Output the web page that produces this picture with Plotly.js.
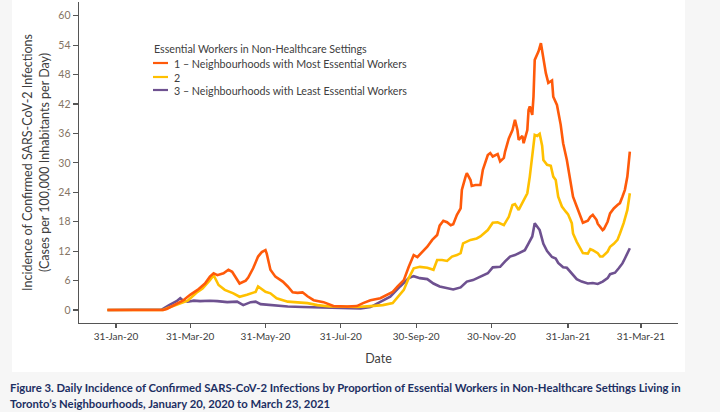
<!DOCTYPE html>
<html>
<head>
<meta charset="utf-8">
<script src="https://cdn.plot.ly/plotly-3.0.1.min.js"></script>
<style>html,body{margin:0;padding:0;background:#f6f6f6;}#chart{width:720px;height:412px;}</style>
</head>
<body>
<div id="chart"></div>
<script>
// ---- Data ----
const seriesNames = [
  "1 \u2013 Neighbourhoods with Most Essential Workers",
  "2",
  "3 \u2013 Neighbourhoods with Least Essential Workers"
];
const legendTitle = "Essential Workers in Non-Healthcare Settings";

const dates1 = ["2020-01-24","2020-02-20","2020-03-09","2020-03-12","2020-03-20","2020-03-25","2020-03-31","2020-04-06","2020-04-12","2020-04-16","2020-04-19","2020-04-22","2020-04-27","2020-05-01","2020-05-04","2020-05-08","2020-05-10","2020-05-15","2020-05-17","2020-05-21","2020-05-25","2020-05-28","2020-05-31","2020-06-01","2020-06-04","2020-06-08","2020-06-14","2020-06-18","2020-06-22","2020-06-26","2020-06-30","2020-07-04","2020-07-09","2020-07-17","2020-07-25","2020-08-05","2020-08-13","2020-08-18","2020-08-24","2020-09-01","2020-09-07","2020-09-11","2020-09-15","2020-09-20","2020-09-24","2020-09-28","2020-10-01","2020-10-05","2020-10-09","2020-10-13","2020-10-17","2020-10-19","2020-10-22","2020-10-25","2020-10-28","2020-10-30","2020-11-02","2020-11-05","2020-11-06","2020-11-09","2020-11-10","2020-11-13","2020-11-14","2020-11-17","2020-11-21","2020-11-23","2020-11-27","2020-11-29","2020-12-01","2020-12-05","2020-12-07","2020-12-10","2020-12-11","2020-12-14","2020-12-17","2020-12-19","2020-12-21","2020-12-22","2020-12-25","2020-12-26","2020-12-29","2020-12-30","2020-12-31","2021-01-02","2021-01-03","2021-01-04","2021-01-07","2021-01-09","2021-01-11","2021-01-13","2021-01-15","2021-01-18","2021-01-19","2021-01-22","2021-01-25","2021-01-27","2021-01-30","2021-02-02","2021-02-04","2021-02-07","2021-02-10","2021-02-12","2021-02-16","2021-02-18","2021-02-20","2021-02-23","2021-02-24","2021-02-28","2021-03-01","2021-03-04","2021-03-06","2021-03-09","2021-03-12","2021-03-14","2021-03-16","2021-03-18","2021-03-20","2021-03-22"];
const values1 = [0,0,0,0.2,1.2,1.9,3.1,4.1,5.4,6.8,7.5,7.1,7.5,8.2,7.8,6.1,5.4,6.0,6.6,8.5,10.9,11.8,12.2,11.5,8.2,6.8,5.8,4.8,3.6,3.5,3.6,2.8,2.0,1.6,0.8,0.7,0.8,1.4,2.0,2.4,3.1,3.7,4.8,6.1,8.8,11.2,10.8,11.9,12.9,14.3,15.3,17.2,18.2,17.9,17.3,17.5,19.4,20.7,24.5,27.2,27.9,26.5,25.3,25.5,25.5,28.6,31.6,32.0,31.3,31.8,30.3,31.0,32.3,35.0,36.7,38.8,36.7,34.7,35.5,34.0,36.7,40.8,41.5,39.8,43.5,51.0,52.7,54.4,51.5,48.3,46.3,46.8,43.5,41.8,37.8,34.0,30.6,26.5,23.1,21.1,19.0,17.8,18.2,19.0,19.4,18.4,17.6,16.3,16.5,18.0,19.7,20.7,21.4,21.8,23.1,24.5,27.2,32.3];

const dates2 = ["2020-01-24","2020-02-20","2020-03-09","2020-03-14","2020-03-20","2020-03-29","2020-04-06","2020-04-10","2020-04-16","2020-04-19","2020-04-23","2020-04-28","2020-05-05","2020-05-10","2020-05-16","2020-05-23","2020-05-25","2020-05-28","2020-05-31","2020-06-04","2020-06-09","2020-06-18","2020-06-26","2020-07-04","2020-07-12","2020-07-22","2020-07-30","2020-08-13","2020-08-24","2020-09-03","2020-09-11","2020-09-15","2020-09-20","2020-09-24","2020-09-28","2020-10-03","2020-10-09","2020-10-14","2020-10-17","2020-10-21","2020-10-25","2020-10-29","2020-11-02","2020-11-05","2020-11-07","2020-11-13","2020-11-18","2020-11-21","2020-11-27","2020-12-01","2020-12-05","2020-12-10","2020-12-14","2020-12-17","2020-12-19","2020-12-22","2020-12-26","2020-12-29","2020-12-31","2021-01-03","2021-01-04","2021-01-06","2021-01-08","2021-01-10","2021-01-11","2021-01-14","2021-01-17","2021-01-19","2021-01-21","2021-01-23","2021-01-26","2021-01-29","2021-01-31","2021-02-03","2021-02-04","2021-02-07","2021-02-10","2021-02-12","2021-02-16","2021-02-18","2021-02-20","2021-02-24","2021-02-26","2021-02-28","2021-03-04","2021-03-06","2021-03-09","2021-03-12","2021-03-14","2021-03-17","2021-03-20","2021-03-22"];
const values2 = [0,0,0,0.5,1.0,1.9,3.7,4.4,6.1,7.1,5.1,4.1,3.4,2.7,3.1,3.7,4.8,4.2,3.7,3.4,2.4,1.7,1.6,1.4,1.0,0.7,0.7,0.6,0.8,1.0,1.4,2.7,4.1,6.5,8.5,8.8,8.6,8.2,10.2,10.2,10.0,10.9,11.2,11.6,13.6,14.3,14.6,15.0,16.3,17.8,17.9,17.3,19.0,21.4,21.6,20.4,22.4,23.8,27.2,34.0,35.7,35.5,35.9,33.5,30.6,29.6,29.4,27.2,26.5,23.1,21.1,20.1,19.5,17.7,15.6,13.9,12.6,11.6,11.5,12.4,12.2,11.6,10.9,10.9,11.9,12.9,13.5,14.3,15.6,17.7,20.4,23.8];

const dates3 = ["2020-01-24","2020-02-20","2020-03-06","2020-03-08","2020-03-14","2020-03-20","2020-03-23","2020-03-25","2020-03-29","2020-04-03","2020-04-08","2020-04-16","2020-04-22","2020-04-30","2020-05-08","2020-05-13","2020-05-19","2020-05-23","2020-05-27","2020-06-04","2020-06-09","2020-06-18","2020-06-30","2020-07-12","2020-07-22","2020-08-05","2020-08-16","2020-08-24","2020-09-01","2020-09-09","2020-09-17","2020-09-24","2020-09-28","2020-10-03","2020-10-09","2020-10-14","2020-10-19","2020-10-25","2020-10-30","2020-11-05","2020-11-10","2020-11-15","2020-11-21","2020-11-27","2020-12-01","2020-12-07","2020-12-11","2020-12-15","2020-12-19","2020-12-23","2020-12-27","2020-12-30","2021-01-02","2021-01-04","2021-01-06","2021-01-08","2021-01-11","2021-01-14","2021-01-18","2021-01-21","2021-01-23","2021-01-27","2021-01-30","2021-02-03","2021-02-07","2021-02-11","2021-02-16","2021-02-20","2021-02-24","2021-02-28","2021-03-04","2021-03-06","2021-03-10","2021-03-13","2021-03-16","2021-03-18","2021-03-21","2021-03-22"];
const values3 = [0,0,0,0.1,1.0,1.8,2.4,2.0,1.7,1.9,1.8,1.9,1.8,1.6,1.7,1.0,1.6,1.7,1.2,1.0,0.8,0.7,0.6,0.5,0.4,0.3,0.3,0.6,1.7,2.7,4.8,6.5,6.9,6.5,6.3,5.4,4.8,4.5,4.2,4.6,5.8,6.1,6.8,7.5,8.7,8.8,9.9,10.9,11.2,11.7,12.2,13.6,15.0,17.7,17.0,16.3,13.5,12.0,10.8,10.5,9.6,8.7,8.6,7.5,6.3,5.8,5.4,5.5,5.3,5.8,6.5,7.3,7.6,8.5,9.5,10.5,11.9,12.6];

const tickDates = ["2020-01-31","2020-03-31","2020-05-31","2020-07-31","2020-09-30","2020-11-30","2021-01-31","2021-03-31"];
const tickLabels = ["31-Jan-20","31-Mar-20","31-May-20","31-Jul-20","30-Sep-20","30-Nov-20","31-Jan-21","31-Mar-21"];
const yTicks = [0,6,12,18,24,30,36,42,48,54,60];

const captionLines = [
  "Figure 3. Daily Incidence of Confirmed SARS-CoV-2 Infections by Proportion of Essential Workers in Non-Healthcare Settings Living in",
  "Toronto\u2019s Neighbourhoods, January 20, 2020 to March 23, 2021"
];

// ---- Styling ----
const colors = ["#ff5a0a", "#ffc000", "#6e5190"];
const W = 720, H = 412;
const M = {l: 79, r: 42, t: 2, b: 89};
const PW = W - M.l - M.r, PH = H - M.t - M.b;
const px = v => (v - M.l) / PW;          // pixel x -> paper x
const py = v => (H - M.b - v) / PH;      // pixel y -> paper y
const FONT = "Lato, 'Liberation Sans', sans-serif";

const xs = [dates1, dates2, dates3];
const ys = [values1, values2, values3];
const traces = xs.map((x, i) => ({
  type: "scatter", mode: "lines", x: x, y: ys[i], name: seriesNames[i],
  line: {color: colors[i], width: 2.6, shape: "linear"},
  showlegend: false, hoverinfo: "x+y+name"
}));
// draw purple first, then yellow, then orange on top
const ordered = [traces[2], traces[1], traces[0]];

const shapes = [
  {type: "rect", xref: "paper", yref: "paper", x0: px(12), x1: px(685), y0: py(372), y1: py(0),
   fillcolor: "#ffffff", line: {width: 0}, layer: "below"}
];
const annotations = [
  {xref: "paper", yref: "paper", x: px(152), y: py(48), xanchor: "left", yanchor: "middle",
   text: legendTitle, showarrow: false, font: {family: FONT, size: 10.7, color: "#404040"}}
];
const legendY = [63, 77, 90];
seriesNames.forEach((n, i) => {
  shapes.push({type: "line", xref: "paper", yref: "paper", x0: px(153), x1: px(168), y0: py(legendY[i]), y1: py(legendY[i]),
    line: {color: colors[i], width: 2.2}});
  annotations.push({xref: "paper", yref: "paper", x: px(172), y: py(legendY[i]), xanchor: "left", yanchor: "middle",
    text: n, showarrow: false, font: {family: FONT, size: 10.7, color: "#404040"}});
});
captionLines.forEach((t, i) => {
  annotations.push({xref: "paper", yref: "paper", x: px(8), y: py(387 + i * 16), xanchor: "left", yanchor: "middle",
    text: "<b>" + t + "</b>", showarrow: false, font: {family: FONT, size: 11.3, color: "#1c2f63"}});
});

const layout = {
  width: W, height: H,
  margin: {l: M.l, r: M.r, t: M.t, b: M.b, pad: 0},
  paper_bgcolor: "#f6f6f6", plot_bgcolor: "#ffffff",
  font: {family: FONT, color: "#404040"},
  showlegend: false,
  xaxis: {
    type: "date", range: ["2020-01-01", "2021-04-30"],
    tickmode: "array", tickvals: tickDates, ticktext: tickLabels,
    ticks: "outside", ticklen: 4, tickwidth: 1.2, tickcolor: "#555555",
    showline: true, linecolor: "#555555", linewidth: 1.4,
    showgrid: false, zeroline: false,
    tickfont: {family: FONT, size: 10, color: "#404040"},
    title: {text: "Date", font: {family: FONT, size: 12.5, color: "#404040"}, standoff: 13},
    automargin: false
  },
  yaxis: {
    range: [-2.65, 62.8],
    tickmode: "array", tickvals: yTicks,
    ticks: "outside", ticklen: 5, tickwidth: 1.2, tickcolor: "#555555",
    showline: true, linecolor: "#555555", linewidth: 1.4,
    showgrid: false, zeroline: false,
    tickfont: {family: FONT, size: 10.5, color: "#857463"},
    title: {text: "Incidence of Confirmed SARS-CoV-2 Infections<br>(Cases per 100,000 Inhabitants per Day)",
            font: {family: FONT, size: 12.5, color: "#404040"}, standoff: 6},
    automargin: false
  },
  shapes: shapes,
  annotations: annotations
};

Plotly.newPlot("chart", ordered, layout, {displayModeBar: false, staticPlot: true});
</script>
</body>
</html>
